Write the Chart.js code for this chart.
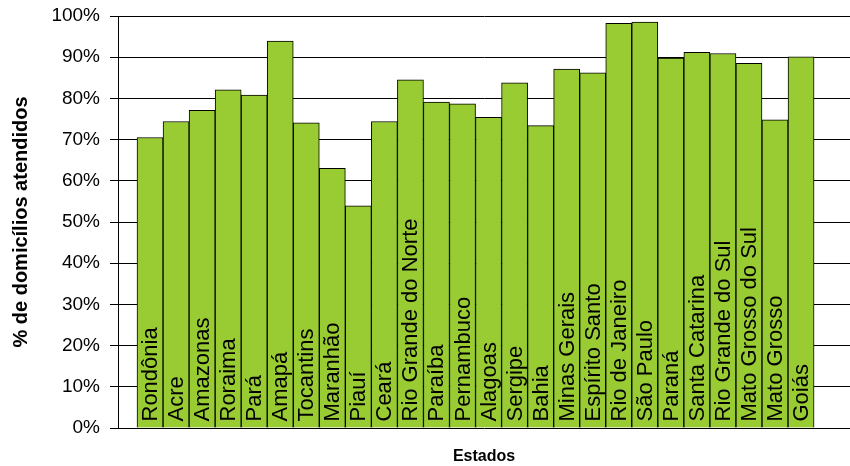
<!DOCTYPE html>
<html>
<head>
<meta charset="utf-8">
<script src="https://cdn.jsdelivr.net/npm/chart.js@4/dist/chart.umd.min.js"></script>
<style>
  html, body { margin: 0; padding: 0; background: #fff; }
  #grafico { display: block; }
</style>
</head>
<body>
<canvas id="grafico" width="850" height="466"></canvas>
<script>
// estados e % de domicilios atendidos
let estados = ['Rondônia', 'Acre', 'Amazonas', 'Roraima', 'Pará', 'Amapá', 'Tocantins', 'Maranhão', 'Piauí',
  'Ceará', 'Rio Grande do Norte', 'Paraíba', 'Pernambuco', 'Alagoas', 'Sergipe', 'Bahia', 'Minas Gerais',
  'Espírito Santo', 'Rio de Janeiro', 'São Paulo', 'Paraná', 'Santa Catarina', 'Rio Grande do Sul',
  'Mato Grosso do Sul', 'Mato Grosso', 'Goiás'];
let atendidos = [70.5, 74.4, 77.1, 82.1, 80.8, 93.9, 74.1, 63.0, 53.9,
  74.4, 84.5, 79.1, 78.7, 75.4, 83.8, 73.4, 87.1,
  86.2, 98.2, 98.5, 89.8, 91.2, 90.9,
  88.5, 74.8, 90.1];
let ticksY = [0, 10, 20, 30, 40, 50, 60, 70, 80, 90, 100];
let xMin = -1.23, xMax = 26.88;

Chart.defaults.font.family = "'Liberation Sans', Arial, sans-serif";
Chart.defaults.color = '#000';

// nome do estado escrito dentro da barra, de baixo para cima
let nomesNasBarras = {
  id: 'nomesNasBarras',
  afterDatasetsDraw(chart) {
    let ctx = chart.ctx;
    let meta = chart.getDatasetMeta(0);
    let base = chart.scales.y.getPixelForValue(0);
    ctx.save();
    ctx.font = "22px 'Liberation Sans', Arial, sans-serif";
    ctx.fillStyle = '#000';
    ctx.textAlign = 'left';
    ctx.textBaseline = 'alphabetic';
    meta.data.forEach((bar, i) => {
      ctx.save();
      ctx.translate(bar.x + 7, base - 6.5);
      ctx.rotate(-Math.PI / 2);
      ctx.fillText(estados[i], 0, 0);
      ctx.restore();
    });
    ctx.restore();
  }
};

let grafico = new Chart(document.getElementById('grafico'), {
  type: 'bar',
  data: {
    datasets: [{
      label: '% de domicílios atendidos',
      data: atendidos.map((v, i) => ({ x: i, y: v })),
      backgroundColor: '#99CC33',
      borderColor: '#000',
      borderWidth: 1,
      barPercentage: 1,
      categoryPercentage: 1
    }]
  },
  options: {
    responsive: false,
    animation: false,
    layout: { padding: { top: 16, right: 0, left: 0, bottom: 0 } },
    plugins: { legend: { display: false }, tooltip: { enabled: false } },
    scales: {
      x: {
        type: 'linear',
        offset: false,
        min: xMin,
        max: xMax,
        afterBuildTicks: s => { s.ticks = [{ value: xMin }]; },
        grid: { display: true, drawOnChartArea: false, color: '#000', tickLength: 5 },
        border: { display: false },
        ticks: { display: false },
        title: {
          display: true,
          text: 'Estados',
          font: { size: 16, weight: 'bold' },
          padding: { top: 0, bottom: 0 }
        },
        afterFit: s => { s.height = 38; s.paddingLeft = 0; s.paddingRight = 0; }
      },
      y: {
        min: 0,
        max: 100,
        afterBuildTicks: s => { s.ticks = ticksY.map(v => ({ value: v })); },
        ticks: {
          font: { size: 19 },
          padding: 10,
          callback: v => v + '%'
        },
        grid: { color: '#000', tickColor: '#000', tickLength: 8, lineWidth: 1 },
        border: { color: '#000', width: 1 },
        title: {
          display: true,
          text: '% de domicílios atendidos',
          font: { size: 20, weight: 'bold' },
          padding: { top: 9, bottom: 0 }
        },
        afterFit: s => { s.width = 118; s.paddingTop = 0; s.paddingBottom = 0; }
      }
    }
  },
  plugins: [nomesNasBarras]
});
</script>
</body>
</html>
